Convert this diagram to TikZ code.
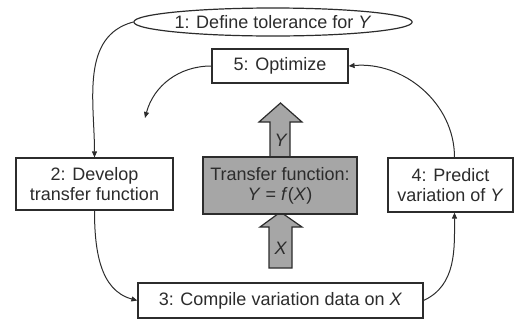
\documentclass[tikz,border=0pt]{standalone}
\usepackage{fontspec}
\setmainfont{Liberation Sans}
\usetikzlibrary{arrows.meta, shapes.geometric}
\definecolor{inkgray}{HTML}{2C2C2C}
\definecolor{boxgray}{HTML}{A6A6A6}
\tikzset{
  stepbox/.style={
    draw=inkgray,
    line width=1.2pt,
    fill=white,
    align=center,
    inner sep=0pt,
    text=inkgray,
    font=\fontsize{18}{20}\selectfont
  },
  goalbox/.style={
    stepbox,
    ellipse,
    minimum width=230pt,
    minimum height=28pt
  },
  corebox/.style={
    stepbox,
    fill=boxgray,
    minimum width=154pt,
    minimum height=57pt
  },
  flowarrow/.style={
    draw=inkgray,
    fill=boxgray,
    line width=1.2pt,
    line join=miter
  },
  link/.style={
    draw=inkgray,
    line width=1pt,
    -{Triangle[length=6pt,width=5pt]}
  }
}

\begin{document}
\begin{tikzpicture}[x=1pt, y=-1pt]
    % Rahmen: 1 Einheit = 1 Pixel der Vorlage
    \useasboundingbox (0,0) rectangle (522,322);

    % Blockpfeile durch die Uebertragungsfunktion
    \draw[flowarrow] (270,157) -- (270,122) -- (259,122) -- (280.5,103)
      -- (302,122) -- (290,122) -- (290,157) -- cycle;
    \draw[flowarrow] (269,268) -- (269,227) -- (260,227) -- (280.5,212)
      -- (302,227) -- (292,227) -- (292,268) -- cycle;

    % Schritte
    \node[goalbox] (define) at (273,22) {1: Define tolerance for \textit{Y}};
    \node[stepbox, minimum width=136pt, minimum height=34pt] (optimize) at (280,66) {5: Optimize};
    \node[stepbox, minimum width=157pt, minimum height=52pt] (develop) at (94.5,184) {2: Develop\\transfer function};
    \node[corebox] (transfer) at (280,185.5) {Transfer function:\\\textit{Y} = \textit{f}(\textit{X})};
    \node[stepbox, minimum width=125pt, minimum height=54pt] (predict) at (450.5,185) {4: Predict\\variation of \textit{Y}};
    \node[stepbox, minimum width=285pt, minimum height=35pt] (compile) at (280.5,300.5) {3: Compile variation data on \textit{X}};

    % Beschriftung der Blockpfeile
    \node[text=inkgray, font=\fontsize{18}{20}\selectfont\itshape] (ylabel) at (280.5,140) {Y};
    \node[text=inkgray, font=\fontsize{18}{20}\selectfont\itshape] (xlabel) at (280.5,248) {X};

    % Kreislauf
    \coordinate (loopend) at (145,118);
    \draw[link] (define.west) to[out=195, in=90] (develop.north);
    \draw[link] (develop.south) to[out=-90, in=165] (compile.west);
    \draw[link] (compile.east) to[out=25, in=-90] ([xshift=4pt]predict.south);
    \draw[link] ([xshift=4pt]predict.north) to[out=90, in=5] (optimize.east);
    \draw[link] (optimize.west) to[out=180, in=75] (loopend);

  \end{tikzpicture}
\end{document}
